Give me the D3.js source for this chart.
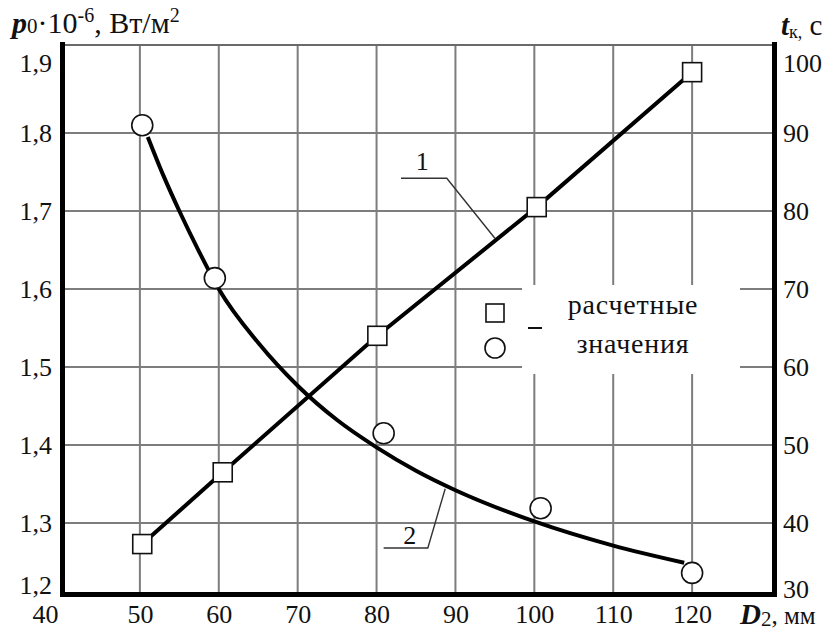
<!DOCTYPE html>
<html lang="ru">
<head>
    <meta charset="UTF-8">
    <title>p0 и tк в зависимости от D2</title>
    <script src="https://d3js.org/d3.v7.min.js"></script>
    <style>
        body { margin: 0; background: #fff; }
        text { font-family: "Liberation Serif", "Times New Roman", "DejaVu Serif", serif; fill: #111; }
    </style>
</head>
<body>
    <svg id="chart" width="830" height="631"></svg>

    <script>
        // data
        const xTicks = [40, 50, 60, 70, 80, 90, 100, 110, 120];
        const pTicks = [1.2, 1.3, 1.4, 1.5, 1.6, 1.7, 1.8, 1.9];
        const tTicks = [30, 40, 50, 60, 70, 80, 90, 100];

        // curve 1: t_k (squares), right axis
        const squareD = [50.3, 60.5, 80.1, 100.3, 120];
        const squareT = [37.3, 46.5, 64.0, 80.5, 97.8];

        // curve 2: p0 (circles), left axis
        const circleD = [50.3, 59.5, 80.9, 100.8, 120];
        const circleP = [1.81, 1.614, 1.415, 1.319, 1.236];
        // smoothed line of curve 2
        const fit2D = [51, 53, 55, 57.5, 60, 65, 70, 75, 80, 85, 90, 100, 110, 119];
        const fit2P = [1.795, 1.745, 1.70, 1.648, 1.600, 1.531, 1.476, 1.432, 1.397, 1.367, 1.342, 1.302, 1.271, 1.249];

        const frame = { left: 62.5, right: 774.5, top: 45, bottom: 594.5 };
        const fontStack = "'Liberation Serif', 'Times New Roman', 'DejaVu Serif', serif";

        const svg = d3.select("#chart");

        const x = d3.scaleLinear().domain([40, 130]).range([61, 771]);
        const yP = d3.scaleLinear().domain([1.2, 1.9]).range([601, 55]);
        const yT = d3.scaleLinear().domain([30, 100]).range([601, 55]);

        const fmt = d => d3.format(".1f")(d).replace(".", ",");

        // grid
        const grid = svg.append("g").attr("stroke", "#7d7d7d").attr("stroke-width", 2);
        grid.selectAll("line.v")
            .data(xTicks.filter(d => d > 40))
            .join("line")
            .attr("class", "v")
            .attr("x1", d => x(d)).attr("x2", d => x(d))
            .attr("y1", frame.top).attr("y2", frame.bottom);
        grid.selectAll("line.h")
            .data(pTicks.filter(d => d > 1.2 && d < 1.9))
            .join("line")
            .attr("class", "h")
            .attr("x1", frame.left).attr("x2", frame.right)
            .attr("y1", d => yP(d)).attr("y2", d => yP(d));

        // top border
        svg.append("line")
            .attr("x1", frame.left).attr("x2", frame.right)
            .attr("y1", frame.top).attr("y2", frame.top)
            .attr("stroke", "#6a6a6a").attr("stroke-width", 2);

        // white area behind the legend
        svg.append("rect")
            .attr("x", 522).attr("y", 285)
            .attr("width", 218).attr("height", 89)
            .attr("fill", "#fff");

        // thick axes
        svg.append("path")
            .attr("d", `M${frame.left},${frame.top - 3}V${frame.bottom}H${frame.right}V${frame.top - 3}`)
            .attr("fill", "none")
            .attr("stroke", "#000")
            .attr("stroke-width", 5);

        // left axis labels
        const leftAx = svg.append("g")
            .attr("transform", `translate(52,0)`)
            .call(d3.axisLeft(yP).tickValues(pTicks).tickSize(0).tickPadding(0).tickFormat(fmt));
        leftAx.select(".domain").remove();
        leftAx.selectAll("text")
            .style("font-size", "26px")
            .style("font-family", fontStack)
            .attr("fill", "#111")
            .attr("dy", d => d === 1.9 ? "0.65em" : d === 1.2 ? "-0.3em" : "0.32em");

        // right axis labels
        const rightAx = svg.append("g")
            .attr("transform", `translate(783,0)`)
            .call(d3.axisRight(yT).tickValues(tTicks).tickSize(0).tickPadding(0));
        rightAx.select(".domain").remove();
        rightAx.selectAll("text")
            .style("font-size", "26px")
            .style("font-family", fontStack)
            .attr("fill", "#111")
            .attr("dy", d => d === 100 ? "0.65em" : d === 30 ? "-0.15em" : "0.32em");

        // bottom axis labels
        const botAx = svg.append("g")
            .attr("transform", `translate(0,603)`)
            .call(d3.axisBottom(x).tickValues(xTicks).tickSize(0).tickPadding(0));
        botAx.select(".domain").remove();
        botAx.selectAll("text")
            .style("font-size", "26px")
            .style("font-family", fontStack)
            .attr("fill", "#111")
            .attr("dy", "0.75em")
            .attr("dx", d => d === 40 ? -16 : 0);

        // axis titles
        const t1 = svg.append("text").attr("x", 12).attr("y", 33).style("font-size", "30px");
        t1.append("tspan").text("p").attr("font-weight", "bold").attr("font-style", "italic");
        t1.append("tspan").text("0").style("font-size", "21px");
        t1.append("tspan").text("·10");
        t1.append("tspan").text("-6").style("font-size", "20px").attr("dy", -11);
        t1.append("tspan").text(", Вт/м").attr("dy", 11);
        t1.append("tspan").text("2").style("font-size", "20px").attr("dy", -11);

        const t2 = svg.append("text").attr("x", 781).attr("y", 35).style("font-size", "29px");
        t2.append("tspan").text("t").attr("font-weight", "bold").attr("font-style", "italic");
        t2.append("tspan").text("к,").style("font-size", "18px").attr("dy", 3);
        t2.append("tspan").text(" с").attr("dy", -3);

        const t3 = svg.append("text").attr("x", 740).attr("y", 624).style("font-size", "29px");
        t3.append("tspan").text("D").attr("font-weight", "bold").attr("font-style", "italic");
        t3.append("tspan").text("2").style("font-size", "21px").attr("dy", 2);
        t3.append("tspan").text(", мм").style("font-size", "25px").attr("dy", -2);

        // leader lines and curve numbers
        const leader = d3.line().x(d => x(d[0])).y(d => yP(d[1]));
        svg.append("path")
            .attr("d", leader([[83.1, 1.742], [88.9, 1.742], [95.0, 1.665]]))
            .attr("fill", "none").attr("stroke", "#333").attr("stroke-width", 1.4);
        svg.append("path")
            .attr("d", leader([[80.9, 1.268], [86.5, 1.268], [88.7, 1.344]]))
            .attr("fill", "none").attr("stroke", "#333").attr("stroke-width", 1.4);
        svg.append("text").attr("x", x(85.8)).attr("y", yP(1.753)).attr("text-anchor", "middle")
            .style("font-size", "26px").text("1");
        svg.append("text").attr("x", x(84.2)).attr("y", yP(1.273)).attr("text-anchor", "middle")
            .style("font-size", "26px").text("2");

        // curve 2 line
        const fit2 = fit2D.map((d, i) => ({ D: d, p: fit2P[i] }));
        svg.append("path")
            .datum(fit2)
            .attr("d", d3.line().x(d => x(d.D)).y(d => yP(d.p)).curve(d3.curveMonotoneX))
            .attr("fill", "none").attr("stroke", "#000").attr("stroke-width", 4);

        // curve 1 line
        const sq = squareD.map((d, i) => ({ D: d, t: squareT[i] }));
        svg.append("path")
            .datum(sq)
            .attr("d", d3.line().x(d => x(d.D)).y(d => yT(d.t)))
            .attr("fill", "none").attr("stroke", "#000").attr("stroke-width", 4);

        // markers
        svg.selectAll("rect.sq")
            .data(sq)
            .join("rect")
            .attr("class", "sq")
            .attr("x", d => x(d.D) - 9.5).attr("y", d => yT(d.t) - 9.5)
            .attr("width", 19).attr("height", 19)
            .attr("fill", "#fff").attr("stroke", "#111").attr("stroke-width", 1.6);

        const ci = circleD.map((d, i) => ({ D: d, p: circleP[i] }));
        svg.selectAll("circle.ci")
            .data(ci)
            .join("circle")
            .attr("class", "ci")
            .attr("cx", d => x(d.D)).attr("cy", d => yP(d.p))
            .attr("r", 10.5)
            .attr("fill", "#fff").attr("stroke", "#111").attr("stroke-width", 1.6);

        // legend
        const lg = svg.append("g");
        lg.append("rect").attr("x", 486).attr("y", 304).attr("width", 18).attr("height", 18)
            .attr("fill", "#fff").attr("stroke", "#111").attr("stroke-width", 1.6);
        lg.append("circle").attr("cx", 495).attr("cy", 348).attr("r", 10)
            .attr("fill", "#fff").attr("stroke", "#111").attr("stroke-width", 1.6);
        lg.append("line").attr("x1", 528).attr("x2", 542).attr("y1", 328).attr("y2", 328)
            .attr("stroke", "#111").attr("stroke-width", 2);
        lg.append("text").attr("x", 633).attr("y", 314).attr("text-anchor", "middle")
            .style("font-size", "28px").style("letter-spacing", "0.8px").text("расчетные");
        lg.append("text").attr("x", 633).attr("y", 353).attr("text-anchor", "middle")
            .style("font-size", "28px").style("letter-spacing", "0.8px").text("значения");
    </script>
</body>
</html>
